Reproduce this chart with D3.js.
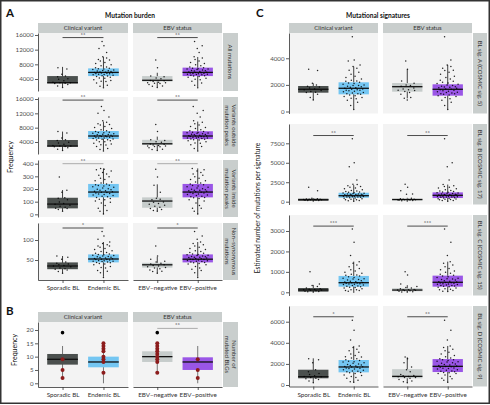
<!DOCTYPE html>
<html><head><meta charset="utf-8">
<script src="https://cdn.jsdelivr.net/npm/d3@7/dist/d3.min.js"></script>
<style>
body{margin:0;background:#fff;}
svg{display:block;font-family:Lato,"Open Sans",sans-serif;}
</style></head><body>
<svg id="chart" width="490" height="405"></svg>
<script>
// ---------------- DATA ----------------
const clinicalCats = ["Sporadic BL", "Endemic BL"];
const ebvCats = ["EBV\u2212negative", "EBV\u2212positive"];
const facetTitles = ["Clinical variant", "EBV status"];

// Each row: [sporadic & EBV-neg, sporadic & EBV-pos, endemic & EBV-neg, endemic & EBV-pos]
const allMutations = [
  [1700,2100,2500,2750,2850,2950,3000,3100,3500,4100,4600,4800,7100],
  [3900,5300,6700],
  [2000,3300,3600,4300,9200],
  [1600,2300,2900,3400,3800,4200,4500,4700,4800,4900,5000,5150,5250,5300,5450,5500,5600,5650,5700,5800,5850,5900,6050,6150,6250,6300,6450,6600,6700,6800,6900,7100,7300,7600,7900,8200,8500,8900,9300,9700,10100,11200,12300,13100,14200]
];
const outsidePeaks = [
  [1600,2000,2400,2650,2750,2850,2900,3000,3350,3950,4450,4650,6900],
  [3750,5100,6500],
  [1900,3150,3450,4100,8900],
  [1500,2200,2750,3250,3650,4050,4350,4550,4650,4750,4850,5000,5100,5150,5300,5350,5450,5500,5550,5650,5700,5750,5900,6000,6100,6150,6300,6450,6550,6650,6750,6950,7150,7450,7750,8050,8350,8750,9100,9500,9900,11000,12000,12800,13900]
];
const insidePeaks = [
  [25,38,46,55,64,72,80,86,98,115,128,175,295],
  [48,130,190],
  [30,95,120,230,355],
  [3,25,48,70,90,105,115,125,132,138,143,148,152,157,161,165,168,172,175,178,182,186,190,194,198,203,208,213,218,223,228,234,240,248,256,265,275,285,296,308,318,330,342,352,362]
];
const nonSynonymous = [
  [17,21,25,28,30,33,35,36,38,42,45,52,60],
  [27,40,57],
  [22,31,40,47,85],
  [6,18,24,30,34,38,41,43,44,45,46,47,48,49,50,51,51,52,53,54,55,56,57,58,59,60,61,62,63,64,65,67,69,71,73,76,79,82,85,88,91,95,102,110,121]
];
const sigA = [
  [870,1050,1300,1420,1500,1580,1640,1700,1760,1900,2000,2120,3180],
  [1450,1850,3080],
  [990,1600,1950,2300,3800],
  [160,450,700,850,950,1050,1120,1190,1240,1290,1340,1390,1430,1480,1520,1560,1600,1640,1670,1700,1740,1780,1820,1860,1900,1950,2000,2050,2100,2150,2200,2270,2350,2450,2550,2650,2800,2950,3100,3250,3380,3500,3870,1330,5620]
];
const sigB = [
  [90,140,180,210,240,260,280,300,330,380,430,1400,1850],
  [150,270,360],
  [120,250,950,1000,2250],
  [50,150,250,330,390,440,480,520,560,600,640,680,710,740,770,800,830,860,890,920,960,1000,1040,1080,1120,1160,1200,1250,1300,1380,1450,1550,1650,1750,1850,1950,2050,2200,2800,4500,5000,8100,610,700,850]
];
const sigC = [
  [10,30,55,75,95,110,120,140,170,210,280,400,1010],
  [40,150,330],
  [20,90,130,230,850],
  [50,90,130,170,210,245,275,300,330,355,380,400,420,440,460,480,500,520,545,570,600,630,660,690,720,760,800,840,880,930,980,1040,1100,1170,1250,1330,1420,1500,1800,2450,3100,310,390,470,650]
];
const sigD = [
  [220,380,520,650,720,780,800,880,1000,1250,1450,2100,2500],
  [600,1100,2400],
  [300,700,900,1700,2650],
  [250,450,650,800,950,1080,1180,1250,1320,1390,1450,1510,1570,1620,1680,1720,1760,1800,1850,1900,1950,2000,2060,2120,2180,2250,2320,2400,2480,2570,2680,2800,2950,3100,3250,3400,3550,3700,4270,5200,6150,1300,1600,2200,1150]
];

// Box stats [lower whisker, Q1, median, Q3, upper whisker]; order: Sporadic, Endemic, EBV-neg, EBV-pos
const allMutationsBox = [[1800,2800,3000,4800,7300],[1800,4800,5800,6900,10000],[1800,3300,3650,4800,5700],[1800,4800,5800,7100,10000]];
const outsidePeaksBox = [[1700,2690,2880,4560,6900],[1600,4840,5670,7070,9700],[1700,3200,3500,4600,5500],[1600,4800,5670,7000,9700]];
const insidePeaksBox = [[26,47,81,131,192],[2,134,176,240,363],[26,52,105,134,237],[2,134,176,240,363]];
const nonSynonymousBox = [[17,27,35,44,60],[8,44,52.5,64,95],[17,31,38,43,58],[8,44,52,64,95]];
const sigABox = [[865,1414,1670,1917,2120],[165,1290,1745,2195,3370],[990,1490,1865,2140,3170],[165,1190,1670,2045,3500]];
const sigBBox = [[100,130,250,385,450],[50,510,770,1150,2140],[100,130,280,385,500],[50,470,820,1200,2200]];
const sigCBox = [[0,30,113,210,360],[50,275,470,800,1500],[0,50,110,200,350],[50,275,490,815,1500]];
const sigDBox = [[220,635,790,1450,2530],[250,1200,1710,2370,3700],[220,635,820,1500,2630],[250,1230,1770,2460,3700]];

// Panel B: mutated BLGs
const blgBox = [[2,7,9,11,14],[0,6,8,10,15],[4,8,10,12,15],[0,5,8,9.75,14]];
const blgHighlighted = [[9,5,2],[15,14,13,12,10,9,8,4],[15,14,13,12,11,10,9,8,4],[9,5,2]];
const blgOutliers = [[19],[],[19],[]];

// significance labels [clinical, EBV] and bar levels
const sigLabelsA = [["**","**"],["**","**"],["**","**"],["*","*"]];
const sigLevelsA = [15300,15700,400,130];
const sigLabelsB = [[null,"**"]];
const sigLevelsB = [20.6];
const sigLabelsC = [[null,null],["**","**"],["***","***"],["*","**"]];
const sigLevelsC = [null,8500,3240,6470];

const rowLabelsA = [["All mutations"],["Variants outside","mutation peaks"],["Variants inside","mutation peaks"],["Non\u2212synonymous","mutations"]];
const rowLabelsB = [["Number of","mutated BLGs"]];
const rowLabelsC = [["BL sig. A (COSMIC sig. 5)"],["BL sig. B (COSMIC sig. 17)"],["BL sig. C (COSMIC sig. 15)"],["BL sig. D (COSMIC sig. 9)"]];

const ticksA = [[4000,8000,12000,16000],[4000,8000,12000,16000],[0,100,200,300,400],[50,100]];
const ticksB = [[0,5,10,15,20]];
const ticksC = [[0,2000,4000],[0,2500,5000,7500],[0,1000,2000,3000],[0,2000,4000,6000]];

// ---------------- DRAWING ----------------
const svg = d3.select("#chart");
const FILL = {"Sporadic BL":"#4b504e","Endemic BL":"#74c6f2","EBV\u2212negative":"#c6cccb","EBV\u2212positive":"#9a56e6"};
const STRIP = "#c9cecd", PANEL = "#f3f3f3";

function groupValues(rowData, f) {
  const [sn, sp, en, ep] = rowData;
  return f === 0 ? [sn.concat(sp), en.concat(ep)] : [sn.concat(en), sp.concat(ep)];
}
function vdc(n) { let v = 0, d = 1; while (n) { d *= 2; v += (n % 2) / d; n = Math.floor(n / 2); } return v; }
function offsets(vals, y, maxW) {
  const py = vals.map(v => y(v));
  const dens = py.map(p => py.filter(q => Math.abs(q - p) < 4).length);
  const order = d3.range(vals.length).sort((a, b) => vals[a] - vals[b]);
  const off = new Array(vals.length);
  order.forEach((idx, k) => {
    const w = maxW * Math.min(1, Math.sqrt(dens[idx] / 10));
    off[idx] = (vdc(k + 1) * 2 - 1) * w;
  });
  return off;
}
function styleAxis(a, fs) {
  a.attr("font-family", "Lato, sans-serif").attr("font-size", fs);
  a.selectAll("text").attr("fill", "#4d4d4d");
  a.selectAll("line,path").attr("stroke", "#333").attr("stroke-width", 0.8);
}

function drawGrid(cfg) {
  const g = svg.append("g");
  cfg.facetX.forEach((fx, f) => {
    g.append("rect").attr("x", fx[0]).attr("y", cfg.stripY[0]).attr("width", fx[1] - fx[0]).attr("height", cfg.stripY[1] - cfg.stripY[0]).attr("fill", STRIP);
    g.append("text").attr("x", (fx[0] + fx[1]) / 2).attr("y", (cfg.stripY[0] + cfg.stripY[1]) / 2).attr("dy", "0.35em")
      .attr("text-anchor", "middle").attr("font-size", 6).attr("fill", "#333").text(facetTitles[f]);
  });
  const xs = cfg.facetX.map((fx, f) => d3.scalePoint().domain(cfg.cats[f]).range(fx).padding(0.6));
  cfg.rows.forEach((row, r) => {
    const y = d3.scaleLinear().domain(row.domain).range([row.y[1], row.y[0]]);
    cfg.facetX.forEach(fx => g.append("rect").attr("x", fx[0]).attr("y", row.y[0]).attr("width", fx[1] - fx[0]).attr("height", row.y[1] - row.y[0]).attr("fill", PANEL));
    // right strip
    const rs = cfg.rightX;
    g.append("rect").attr("x", rs[0]).attr("y", row.y[0]).attr("width", rs[1] - rs[0]).attr("height", row.y[1] - row.y[0]).attr("fill", STRIP);
    const lines = row.label;
    const t = g.append("text").attr("transform", `translate(${(rs[0] + rs[1]) / 2},${(row.y[0] + row.y[1]) / 2}) rotate(90)`)
      .attr("text-anchor", "middle").attr("font-size", 6).attr("fill", "#333");
    lines.forEach((l, i) => t.append("tspan").attr("x", 0).attr("y", (i - (lines.length - 1) / 2) * 6.6).attr("dy", "0.35em").text(l));
    // y axis
    const ya = g.append("g").attr("transform", `translate(${cfg.facetX[0][0]},0)`)
      .call(d3.axisLeft(y).tickValues(row.ticks).tickSize(3).tickSizeOuter(0).tickPadding(1.5).tickFormat(d3.format("d")));
    styleAxis(ya, 6.2);
    cfg.facetX.forEach((fx, f) => {
      const groups = row.groups ? row.groups(f) : groupValues(row.data, f);
      cfg.cats[f].forEach((cat, c) => {
        const st = row.box[f * 2 + c];
        const cx = xs[f](cat), bw = xs[f].step() * 0.75;
        g.append("line").attr("x1", cx).attr("x2", cx).attr("y1", y(st[0])).attr("y2", y(st[4])).attr("stroke", cfg.whisker).attr("stroke-width", 0.8);
        g.append("rect").attr("x", cx - bw / 2).attr("y", y(st[3])).attr("width", bw).attr("height", y(st[1]) - y(st[3])).attr("fill", FILL[cat]);
        g.append("line").attr("x1", cx - bw / 2).attr("x2", cx + bw / 2).attr("y1", y(st[2])).attr("y2", y(st[2])).attr("stroke", "#111").attr("stroke-width", 1.3);
        const vals = groups[c];
        if (cfg.jitter) {
          const off = offsets(vals, y, 11);
          g.selectAll(null).data(vals).enter().append("circle")
            .attr("cx", (d, i) => cx + off[i]).attr("cy", d => y(d)).attr("r", 0.75).attr("fill", "#000").attr("opacity", 0.85);
        } else {
          g.selectAll(null).data(vals).enter().append("circle")
            .attr("cx", cx).attr("cy", d => y(d)).attr("r", 2).attr("fill", "#8c1c1c");
          g.selectAll(null).data(row.outliers[f * 2 + c]).enter().append("circle")
            .attr("cx", cx).attr("cy", d => y(d)).attr("r", 1.8).attr("fill", "#000");
        }
      });
      const lab = row.sig[f];
      if (lab) {
        const sy = y(row.sigLevel);
        const x1 = xs[f](cfg.cats[f][0]), x2 = xs[f](cfg.cats[f][1]);
        g.append("line").attr("x1", x1).attr("x2", x2).attr("y1", sy).attr("y2", sy).attr("stroke", row.sigColor).attr("stroke-width", 0.8);
        g.append("text").attr("x", (x1 + x2) / 2).attr("y", sy - 1).attr("text-anchor", "middle").attr("font-size", 6).attr("fill", "#333").text(lab);
      }
    });
    if (r === cfg.rows.length - 1) {
      cfg.facetX.forEach((fx, f) => {
        const xa = g.append("g").attr("transform", `translate(0,${row.y[1]})`)
          .call(d3.axisBottom(xs[f]).tickSize(3).tickSizeOuter(0).tickPadding(3));
        styleAxis(xa, 6.3);
        xa.selectAll("text").attr("fill", "#333");
      });
    }
  });
}

// frame
svg.append("rect").attr("x", 0.75).attr("y", 0.75).attr("width", 488.5).attr("height", 402.5).attr("fill", "none").attr("stroke", "#333").attr("stroke-width", 1.5);

// Panel A
const dataA = [allMutations, outsidePeaks, insidePeaks, nonSynonymous];
const boxA = [allMutationsBox, outsidePeaksBox, insidePeaksBox, nonSynonymousBox];
const yA = [[33, 91], [97, 154], [160, 217], [223, 280]];
const domA = [[727, 16545], [650, 16560], [-21, 429], [0, 142.5]];
const sigColA = ["#222", "#222", "#999", "#222"];
drawGrid({
  facetX: [[38, 128], [133, 222]], rightX: [223, 238], stripY: [23, 33], cats: [clinicalCats, ebvCats], jitter: true, whisker: "#111",
  rows: dataA.map((d, i) => ({ data: d, box: boxA[i], y: yA[i], domain: domA[i], ticks: ticksA[i], label: rowLabelsA[i], sig: sigLabelsA[i], sigLevel: sigLevelsA[i], sigColor: sigColA[i] }))
});

// Panel B
drawGrid({
  facetX: [[38, 128], [133, 222]], rightX: [223, 238], stripY: [312, 322], cats: [clinicalCats, ebvCats], jitter: false, whisker: "#555",
  rows: [{ groups: f => [blgHighlighted[f * 2], blgHighlighted[f * 2 + 1]], outliers: blgOutliers, box: blgBox, y: [322, 387], domain: [-1.39, 23], ticks: ticksB[0], label: rowLabelsB[0], sig: sigLabelsB[0], sigLevel: sigLevelsB[0], sigColor: "#999" }]
});

// Panel C
const dataC = [sigA, sigB, sigC, sigD];
const boxC = [sigABox, sigBBox, sigCBox, sigDBox];
const yC = [[33, 113.5], [124, 204.5], [215, 295.5], [306, 386.5]];
const domC = [[-150, 5900], [-360, 9980], [-157, 3783], [-142, 7490]];
drawGrid({
  facetX: [[289, 378], [383, 472]], rightX: [473, 487], stripY: [23, 33], cats: [clinicalCats, ebvCats], jitter: true, whisker: "#111",
  rows: dataC.map((d, i) => ({ data: d, box: boxC[i], y: yC[i], domain: domC[i], ticks: ticksC[i], label: rowLabelsC[i], sig: sigLabelsC[i], sigLevel: sigLevelsC[i], sigColor: "#222" }))
});

// titles and letters
const T = (x, y, txt, fs, w, anchor, rot) => svg.append("text").attr("transform", `translate(${x},${y})` + (rot ? ` rotate(${rot})` : ""))
  .attr("text-anchor", anchor || "middle").attr("font-size", fs).attr("font-weight", w || "normal").attr("fill", "#111").text(txt);
T(6, 17, "A", 11.5, "bold", "start");
T(6, 315, "B", 11.5, "bold", "start");
T(256, 17, "C", 11.5, "bold", "start");
T(130, 18, "Mutation burden", 6.6, "bold");
T(378, 18, "Mutational signatures", 6.6, "bold");
T(13, 157, "Frequency", 7, "normal", "middle", -90);
T(17, 350, "Frequency", 7, "normal", "middle", -90);
T(260, 208, "Estimated number of mutations per signature", 6.6, "normal", "middle", -90);
</script></body></html>
